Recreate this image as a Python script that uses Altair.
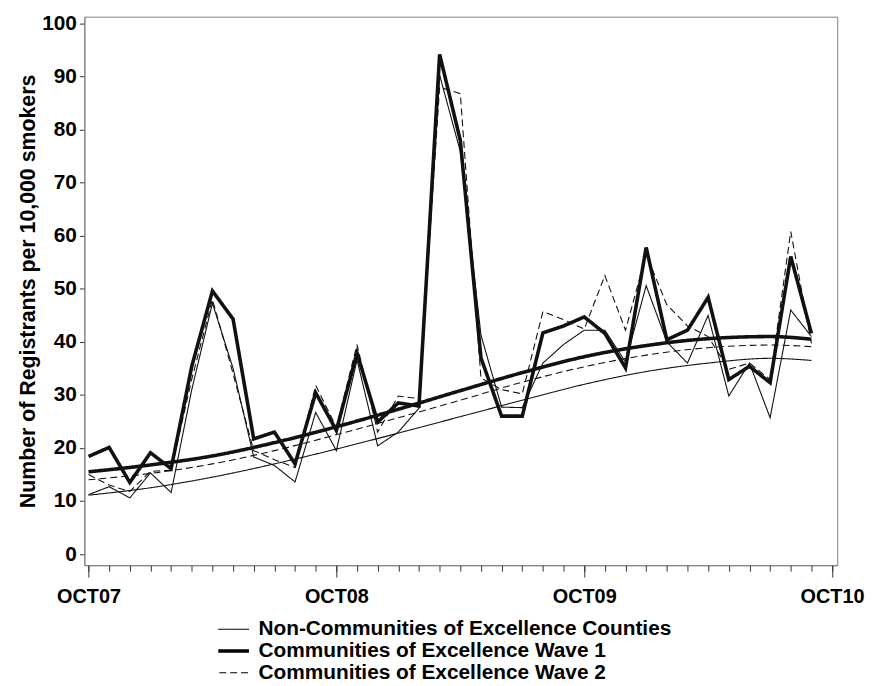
import altair as alt
import pandas as pd

# ---------------- data ----------------
month_index = list(range(36))  # 0 = OCT07 ... 35 = SEP10

non_coe = [11.2, 12.7, 10.6, 15.3, 11.6, 31.0, 47.3, 35.0, 18.3, 16.7, 13.6, 26.7,
           19.5, 36.6, 20.4, 23.0, 27.5, 90.3, 75.9, 41.3, 27.7, 27.6, 36.0, 39.5,
           42.2, 42.2, 36.2, 50.6, 40.0, 36.0, 45.0, 29.8, 36.0, 25.7, 46.0, 41.0]

wave1 = [18.4, 20.1, 13.5, 19.1, 16.1, 35.4, 49.6, 44.3, 21.7, 23.0, 17.0, 30.4,
         23.3, 37.9, 24.9, 28.5, 27.9, 94.2, 78.0, 37.0, 26.0, 26.0, 41.7, 43.0,
         44.7, 41.6, 35.1, 57.8, 40.4, 42.2, 48.4, 32.9, 35.4, 32.3, 56.1, 41.6]

wave2 = [15.0, 13.0, 11.8, 15.6, 15.8, 33.0, 48.0, 34.0, 19.5, 17.8, 16.3, 31.8,
         23.9, 39.5, 23.0, 29.8, 29.3, 88.0, 86.8, 33.2, 31.0, 30.2, 45.7, 44.2,
         42.4, 52.5, 42.2, 56.5, 47.0, 43.0, 41.0, 34.8, 36.0, 32.9, 60.8, 39.7]

trend_index = [0, 3, 6, 9, 12, 15, 18, 21, 24, 27, 30, 33, 35]
trend_non_coe = [11.1, 12.5, 14.5, 17.0, 19.8, 22.8, 25.9, 29.0, 32.0, 34.4, 36.0, 36.9, 36.5]
trend_wave1 = [15.5, 16.8, 18.5, 21.0, 24.0, 27.3, 30.8, 34.2, 37.2, 39.3, 40.6, 41.0, 40.5]
trend_wave2 = [14.0, 15.2, 17.0, 19.5, 22.5, 25.7, 29.0, 32.4, 35.3, 37.5, 38.9, 39.4, 39.1]

series_names = ["Non-Communities of Excellence Counties",
                "Communities of Excellence Wave 1",
                "Communities of Excellence Wave 2"]

year_ticks = [0, 12, 24, 36]
year_labels = ["OCT07", "OCT08", "OCT09", "OCT10"]
month_ticks = list(range(37))
y_ticks = list(range(0, 101, 10))
y_title = "Number of Registrants per 10,000 smokers"

# ---------------- tables ----------------
raw_rows = []
for name, vals in zip(series_names, [non_coe, wave1, wave2]):
    for m, v in zip(month_index, vals):
        raw_rows.append({"month": m, "value": v, "series": name})
raw = pd.DataFrame(raw_rows)

trend_rows = []
for name, vals in zip(series_names, [trend_non_coe, trend_wave1, trend_wave2]):
    for m, v in zip(trend_index, vals):
        trend_rows.append({"month": m, "value": v, "series": name})
trend = pd.DataFrame(trend_rows)

# ---------------- styling ----------------
FONT = "Liberation Sans, Arial, Helvetica, sans-serif"
THICK = 3.6
THIN = 1.1
thick_series = series_names[1]

label_expr = " : ".join(
    [f"datum.value == {t} ? '{l}'" for t, l in zip(year_ticks, year_labels)]
) + " : ''"

x_scale = alt.Scale(domain=[-0.2, 36.25], nice=False, zero=False)
y_scale = alt.Scale(domain=[-2.1, 101.3], nice=False, zero=False)
dash_scale = alt.Scale(domain=series_names, range=[[1, 0], [1, 0], [7, 4]])

width_cond = alt.condition(f"datum.series == '{thick_series}'",
                           alt.value(THICK), alt.value(THIN))

y_axis = alt.Axis(values=y_ticks, tickSize=5, labelPadding=3,
                  title=y_title, titlePadding=2, titleFontSize=21.5,
                  domainColor="#808080", tickColor="#333333")

legend = alt.Legend(
    orient="none", legendX=135, legendY=608, direction="vertical", title=None,
    symbolType="stroke", symbolSize=1681, symbolStrokeColor="black",
    symbolStrokeWidth={"expr": f"datum.value == '{thick_series}' ? {THICK} : {THIN}"},
    labelFont=FONT, labelFontSize=21, labelFontWeight="bold", labelColor="black",
    labelOffset=19.5, labelLimit=0, rowPadding=0, padding=0, symbolOffset=0,
    clipHeight=19,
)

raw_layer = alt.Chart(raw).mark_line(color="#111111").encode(
    x=alt.X("month:Q", scale=x_scale,
            axis=alt.Axis(values=year_ticks, labelExpr=label_expr, tickSize=12,
                          labelPadding=10, title=None, orient="bottom",
                          domainColor="#808080", tickColor="#333333",
                          labelFlush=False, labelOverlap=False, labelFontSize=20)),
    y=alt.Y("value:Q", scale=y_scale, axis=y_axis),
    strokeWidth=width_cond,
    strokeDash=alt.StrokeDash("series:N", scale=dash_scale, legend=legend),
    detail="series:N",
)

trend_layer = alt.Chart(trend).mark_line(color="#111111", interpolate="monotone").encode(
    x=alt.X("month:Q", scale=x_scale,
            axis=alt.Axis(values=month_ticks, tickSize=6, labels=False, title=None,
                          orient="bottom", domain=False, tickColor="#333333")),
    y=alt.Y("value:Q", scale=y_scale, axis=y_axis),
    strokeWidth=width_cond,
    strokeDash=alt.StrokeDash("series:N", scale=dash_scale, legend=legend),
    detail="series:N",
)

chart = alt.layer(raw_layer, trend_layer).resolve_axis(x="independent").properties(
    width=759, height=553,
    autosize=alt.AutoSizeParams(type="none"),
    padding={"left": 77, "top": 6, "right": 28, "bottom": 116},
).configure_view(stroke="#7f7f7f", strokeWidth=1).configure_axis(
    grid=False, labelFont=FONT, labelFontSize=21, labelFontWeight="bold",
    labelColor="black", titleFont=FONT, titleFontWeight="bold", titleColor="black",
)

chart.save("out.html", embed_options={"renderer": "svg", "actions": False})
